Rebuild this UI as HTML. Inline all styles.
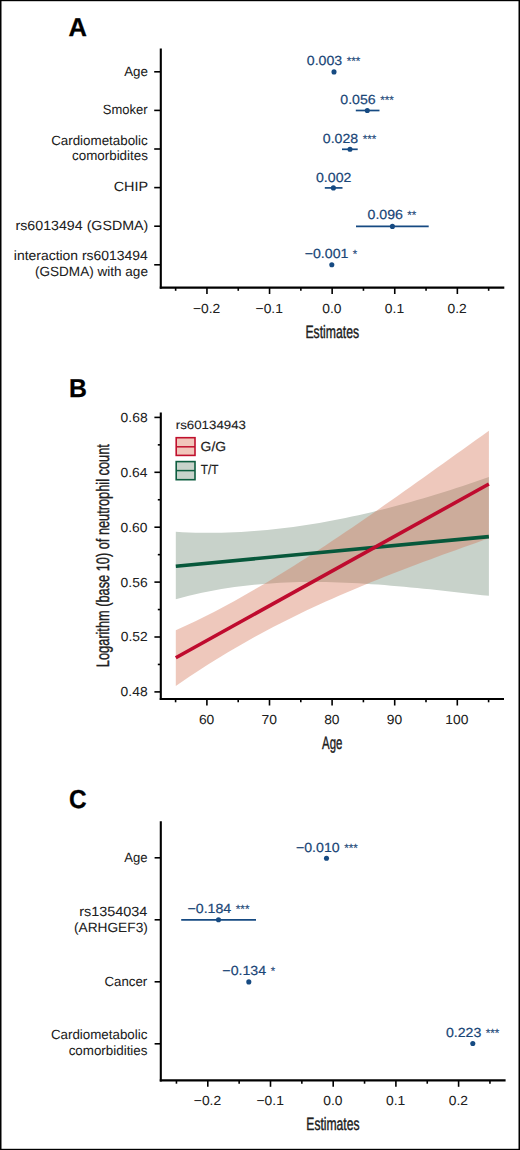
<!DOCTYPE html>
<html><head><meta charset="utf-8"><style>
html,body{margin:0;padding:0;background:#fff;}
svg{display:block;}
text{font-family:"Liberation Sans",sans-serif;font-kerning:none;}
</style></head><body>
<svg width="520" height="1150" viewBox="0 0 520 1150" text-rendering="geometricPrecision">
<rect width="520" height="1150" fill="#fff"/>
<text x="68.62" y="35.7" font-size="25.9" font-weight="bold" fill="#000" stroke="#000" stroke-width="0.3" textLength="18.41" lengthAdjust="spacingAndGlyphs">A</text>
<line x1="160.8" y1="48.5" x2="160.8" y2="288.65" stroke="#000" stroke-width="2.1" stroke-linecap="butt"/>
<line x1="159.75" y1="287.6" x2="504.3" y2="287.6" stroke="#000" stroke-width="2.1" stroke-linecap="butt"/>
<line x1="154.2" y1="71.8" x2="160.8" y2="71.8" stroke="#000" stroke-width="1.6" stroke-linecap="butt"/>
<line x1="154.2" y1="110.4" x2="160.8" y2="110.4" stroke="#000" stroke-width="1.6" stroke-linecap="butt"/>
<line x1="154.2" y1="149" x2="160.8" y2="149" stroke="#000" stroke-width="1.6" stroke-linecap="butt"/>
<line x1="154.2" y1="187.6" x2="160.8" y2="187.6" stroke="#000" stroke-width="1.6" stroke-linecap="butt"/>
<line x1="154.2" y1="226.2" x2="160.8" y2="226.2" stroke="#000" stroke-width="1.6" stroke-linecap="butt"/>
<line x1="154.2" y1="264.8" x2="160.8" y2="264.8" stroke="#000" stroke-width="1.6" stroke-linecap="butt"/>
<line x1="175.65" y1="287.6" x2="175.65" y2="290.8" stroke="#000" stroke-width="1.6" stroke-linecap="butt"/>
<line x1="206.95" y1="287.6" x2="206.95" y2="294" stroke="#000" stroke-width="1.6" stroke-linecap="butt"/>
<line x1="238.25" y1="287.6" x2="238.25" y2="290.8" stroke="#000" stroke-width="1.6" stroke-linecap="butt"/>
<line x1="269.55" y1="287.6" x2="269.55" y2="294" stroke="#000" stroke-width="1.6" stroke-linecap="butt"/>
<line x1="300.85" y1="287.6" x2="300.85" y2="290.8" stroke="#000" stroke-width="1.6" stroke-linecap="butt"/>
<line x1="332.15" y1="287.6" x2="332.15" y2="294" stroke="#000" stroke-width="1.6" stroke-linecap="butt"/>
<line x1="363.45" y1="287.6" x2="363.45" y2="290.8" stroke="#000" stroke-width="1.6" stroke-linecap="butt"/>
<line x1="394.75" y1="287.6" x2="394.75" y2="294" stroke="#000" stroke-width="1.6" stroke-linecap="butt"/>
<line x1="426.05" y1="287.6" x2="426.05" y2="290.8" stroke="#000" stroke-width="1.6" stroke-linecap="butt"/>
<line x1="457.35" y1="287.6" x2="457.35" y2="294" stroke="#000" stroke-width="1.6" stroke-linecap="butt"/>
<line x1="488.65" y1="287.6" x2="488.65" y2="290.8" stroke="#000" stroke-width="1.6" stroke-linecap="butt"/>
<text x="124.2" y="75.8" font-size="13.4" fill="#202020" stroke="#202020" stroke-width="0.05" textLength="23.77" lengthAdjust="spacingAndGlyphs">Age</text>
<text x="102.84" y="113.9" font-size="13.4" fill="#202020" stroke="#202020" stroke-width="0.05" textLength="44.76" lengthAdjust="spacingAndGlyphs">Smoker</text>
<text x="51.15" y="144.8" font-size="13.4" fill="#202020" stroke="#202020" stroke-width="0.05" textLength="96.58" lengthAdjust="spacingAndGlyphs">Cardiometabolic</text>
<text x="72.06" y="159.9" font-size="13.4" fill="#202020" stroke="#202020" stroke-width="0.05" textLength="75.8" lengthAdjust="spacingAndGlyphs">comorbidites</text>
<text x="113.69" y="191.4" font-size="13.4" fill="#202020" stroke="#202020" stroke-width="0.05" textLength="34.44" lengthAdjust="spacingAndGlyphs">CHIP</text>
<text x="15.48" y="230.4" font-size="13.4" fill="#202020" stroke="#202020" stroke-width="0.05" textLength="132.78" lengthAdjust="spacingAndGlyphs">rs6013494 (GSDMA)</text>
<text x="13.89" y="260.3" font-size="13.4" fill="#202020" stroke="#202020" stroke-width="0.05" textLength="133.89" lengthAdjust="spacingAndGlyphs">interaction rs6013494</text>
<text x="34.98" y="276" font-size="13.4" fill="#202020" stroke="#202020" stroke-width="0.05" textLength="112.99" lengthAdjust="spacingAndGlyphs">(GSDMA) with age</text>
<text x="192.98" y="312.5" font-size="13.2" fill="#202020" stroke="#202020" stroke-width="0.05" textLength="27.36" lengthAdjust="spacingAndGlyphs">−0.2</text>
<text x="255.57" y="312.5" font-size="13.2" fill="#202020" stroke="#202020" stroke-width="0.05" textLength="27.36" lengthAdjust="spacingAndGlyphs">−0.1</text>
<text x="322.22" y="312.5" font-size="13.2" fill="#202020" stroke="#202020" stroke-width="0.05" textLength="19.27" lengthAdjust="spacingAndGlyphs">0.0</text>
<text x="384.88" y="312.5" font-size="13.2" fill="#202020" stroke="#202020" stroke-width="0.05" textLength="19.27" lengthAdjust="spacingAndGlyphs">0.1</text>
<text x="447.49" y="312.5" font-size="13.2" fill="#202020" stroke="#202020" stroke-width="0.05" textLength="19.27" lengthAdjust="spacingAndGlyphs">0.2</text>
<text x="305.4" y="337.6" font-size="18" fill="#202020" stroke="#202020" stroke-width="0.4" textLength="53.75" lengthAdjust="spacingAndGlyphs">Estimates</text>
<line x1="355.8" y1="110.5" x2="379.5" y2="110.5" stroke="#164a82" stroke-width="1.7" stroke-linecap="butt"/>
<line x1="342" y1="149.3" x2="357.7" y2="149.3" stroke="#164a82" stroke-width="1.7" stroke-linecap="butt"/>
<line x1="324.8" y1="187.9" x2="342.5" y2="187.9" stroke="#164a82" stroke-width="1.7" stroke-linecap="butt"/>
<line x1="356" y1="226.4" x2="428.7" y2="226.4" stroke="#164a82" stroke-width="1.7" stroke-linecap="butt"/>
<circle cx="334" cy="71.9" r="2.55" fill="#164a82"/>
<circle cx="367.3" cy="110.5" r="2.55" fill="#164a82"/>
<circle cx="350" cy="149.3" r="2.55" fill="#164a82"/>
<circle cx="333.4" cy="187.9" r="2.55" fill="#164a82"/>
<circle cx="392.4" cy="226.4" r="2.55" fill="#164a82"/>
<circle cx="331.8" cy="264.7" r="2.55" fill="#164a82"/>
<text x="306.8" y="65.2" font-size="13.2" fill="#1a4677" stroke="#1a4677" stroke-width="0.2" textLength="35.47" lengthAdjust="spacingAndGlyphs">0.003</text>
<text x="346.63" y="65.2" font-size="11.8" fill="#1a4677" stroke="#1a4677" stroke-width="0.15" textLength="13.62" lengthAdjust="spacingAndGlyphs">***</text>
<text x="340.3" y="104.3" font-size="13.2" fill="#1a4677" stroke="#1a4677" stroke-width="0.2" textLength="35.47" lengthAdjust="spacingAndGlyphs">0.056</text>
<text x="380.13" y="104.3" font-size="11.8" fill="#1a4677" stroke="#1a4677" stroke-width="0.15" textLength="13.62" lengthAdjust="spacingAndGlyphs">***</text>
<text x="322.8" y="142.9" font-size="13.2" fill="#1a4677" stroke="#1a4677" stroke-width="0.2" textLength="35.47" lengthAdjust="spacingAndGlyphs">0.028</text>
<text x="362.64" y="142.9" font-size="11.8" fill="#1a4677" stroke="#1a4677" stroke-width="0.15" textLength="13.62" lengthAdjust="spacingAndGlyphs">***</text>
<text x="315.95" y="181.7" font-size="13.2" fill="#1a4677" stroke="#1a4677" stroke-width="0.2" textLength="35.47" lengthAdjust="spacingAndGlyphs">0.002</text>
<text x="367.5" y="219" font-size="13.2" fill="#1a4677" stroke="#1a4677" stroke-width="0.2" textLength="35.47" lengthAdjust="spacingAndGlyphs">0.096</text>
<text x="407.33" y="219" font-size="11.8" fill="#1a4677" stroke="#1a4677" stroke-width="0.15" textLength="9.03" lengthAdjust="spacingAndGlyphs">**</text>
<text x="304.69" y="258" font-size="13.2" fill="#1a4677" stroke="#1a4677" stroke-width="0.2" textLength="43.79" lengthAdjust="spacingAndGlyphs">−0.001</text>
<text x="352.78" y="258" font-size="11.8" fill="#1a4677" stroke="#1a4677" stroke-width="0.15" textLength="4.43" lengthAdjust="spacingAndGlyphs">*</text>
<text x="68.89" y="396.7" font-size="25.9" font-weight="bold" fill="#000" stroke="#000" stroke-width="0.3" textLength="17.88" lengthAdjust="spacingAndGlyphs">B</text>
<path d="M175.8,531.83 L182.32,532.19 L188.85,532.47 L195.37,532.67 L201.89,532.79 L208.41,532.83 L214.94,532.81 L221.46,532.7 L227.98,532.53 L234.51,532.28 L241.03,531.96 L247.55,531.57 L254.07,531.11 L260.6,530.58 L267.12,529.99 L273.64,529.33 L280.17,528.6 L286.69,527.82 L293.21,526.96 L299.74,526.05 L306.26,525.07 L312.78,524.04 L319.3,522.94 L325.83,521.79 L332.35,520.58 L338.87,519.31 L345.4,517.99 L351.92,516.62 L358.44,515.19 L364.96,513.71 L371.49,512.18 L378.01,510.6 L384.53,508.97 L391.06,507.29 L397.58,505.56 L404.1,503.79 L410.62,501.97 L417.15,500.11 L423.67,498.21 L430.19,496.26 L436.72,494.27 L443.24,492.25 L449.76,490.18 L456.29,488.07 L462.81,485.93 L469.33,483.76 L475.85,481.54 L482.38,479.3 L488.9,477.02 L488.9,595.86 L482.38,595.13 L475.85,594.4 L469.33,593.67 L462.81,592.93 L456.29,592.2 L449.76,591.48 L443.24,590.77 L436.72,590.06 L430.19,589.37 L423.67,588.69 L417.15,588.03 L410.62,587.4 L404.1,586.78 L397.58,586.19 L391.06,585.63 L384.53,585.1 L378.01,584.6 L371.49,584.14 L364.96,583.72 L358.44,583.33 L351.92,582.99 L345.4,582.7 L338.87,582.45 L332.35,582.26 L325.83,582.11 L319.3,582.03 L312.78,582 L306.26,582.03 L299.74,582.12 L293.21,582.28 L286.69,582.51 L280.17,582.81 L273.64,583.18 L267.12,583.63 L260.6,584.15 L254.07,584.76 L247.55,585.45 L241.03,586.22 L234.51,587.09 L227.98,588.04 L221.46,589.08 L214.94,590.23 L208.41,591.47 L201.89,592.81 L195.37,594.25 L188.85,595.8 L182.32,597.46 L175.8,599.23 Z" fill="#c8d2ca" fill-opacity="1"/>
<path d="M175.8,630.33 L182.32,627.36 L188.85,624.32 L195.37,621.2 L201.89,618 L208.41,614.73 L214.94,611.38 L221.46,607.96 L227.98,604.47 L234.51,600.91 L241.03,597.29 L247.55,593.61 L254.07,589.86 L260.6,586.06 L267.12,582.2 L273.64,578.28 L280.17,574.31 L286.69,570.29 L293.21,566.21 L299.74,562.09 L306.26,557.93 L312.78,553.72 L319.3,549.47 L325.83,545.18 L332.35,540.85 L338.87,536.49 L345.4,532.09 L351.92,527.66 L358.44,523.2 L364.96,518.71 L371.49,514.2 L378.01,509.66 L384.53,505.11 L391.06,500.53 L397.58,495.93 L404.1,491.32 L410.62,486.69 L417.15,482.05 L423.67,477.41 L430.19,472.75 L436.72,468.09 L443.24,463.42 L449.76,458.75 L456.29,454.08 L462.81,449.41 L469.33,444.75 L475.85,440.09 L482.38,435.44 L488.9,430.8 L488.9,538.31 L482.38,540.62 L475.85,542.93 L469.33,545.25 L462.81,547.57 L456.29,549.91 L449.76,552.25 L443.24,554.62 L436.72,556.99 L430.19,559.39 L423.67,561.8 L417.15,564.23 L410.62,566.69 L404.1,569.17 L397.58,571.68 L391.06,574.22 L384.53,576.79 L378.01,579.39 L371.49,582.02 L364.96,584.69 L358.44,587.39 L351.92,590.14 L345.4,592.93 L338.87,595.76 L332.35,598.63 L325.83,601.56 L319.3,604.53 L312.78,607.55 L306.26,610.62 L299.74,613.75 L293.21,616.94 L286.69,620.18 L280.17,623.48 L273.64,626.85 L267.12,630.27 L260.6,633.76 L254.07,637.32 L247.55,640.95 L241.03,644.65 L234.51,648.42 L227.98,652.27 L221.46,656.19 L214.94,660.19 L208.41,664.27 L201.89,668.44 L195.37,672.68 L188.85,677.01 L182.32,681.43 L175.8,685.94 Z" fill="#d37253" fill-opacity="0.39"/>
<line x1="175.8" y1="566.2" x2="488.9" y2="536.6" stroke="#07583b" stroke-width="3.6" stroke-linecap="butt"/>
<line x1="175.8" y1="657.7" x2="488.9" y2="484" stroke="#bf0b2e" stroke-width="3.6" stroke-linecap="butt"/>
<line x1="160.8" y1="412.4" x2="160.8" y2="700.05" stroke="#000" stroke-width="2.1" stroke-linecap="butt"/>
<line x1="159.75" y1="699" x2="504" y2="699" stroke="#000" stroke-width="2.1" stroke-linecap="butt"/>
<line x1="154.4" y1="417.4" x2="160.8" y2="417.4" stroke="#000" stroke-width="1.6" stroke-linecap="butt"/>
<line x1="157.8" y1="444.85" x2="160.8" y2="444.85" stroke="#000" stroke-width="1.6" stroke-linecap="butt"/>
<line x1="154.4" y1="472.3" x2="160.8" y2="472.3" stroke="#000" stroke-width="1.6" stroke-linecap="butt"/>
<line x1="157.8" y1="499.75" x2="160.8" y2="499.75" stroke="#000" stroke-width="1.6" stroke-linecap="butt"/>
<line x1="154.4" y1="527.2" x2="160.8" y2="527.2" stroke="#000" stroke-width="1.6" stroke-linecap="butt"/>
<line x1="157.8" y1="554.65" x2="160.8" y2="554.65" stroke="#000" stroke-width="1.6" stroke-linecap="butt"/>
<line x1="154.4" y1="582.1" x2="160.8" y2="582.1" stroke="#000" stroke-width="1.6" stroke-linecap="butt"/>
<line x1="157.8" y1="609.55" x2="160.8" y2="609.55" stroke="#000" stroke-width="1.6" stroke-linecap="butt"/>
<line x1="154.4" y1="637" x2="160.8" y2="637" stroke="#000" stroke-width="1.6" stroke-linecap="butt"/>
<line x1="157.8" y1="664.45" x2="160.8" y2="664.45" stroke="#000" stroke-width="1.6" stroke-linecap="butt"/>
<line x1="154.4" y1="691.9" x2="160.8" y2="691.9" stroke="#000" stroke-width="1.6" stroke-linecap="butt"/>
<line x1="175.6" y1="699" x2="175.6" y2="702.3" stroke="#000" stroke-width="1.6" stroke-linecap="butt"/>
<line x1="206.9" y1="699" x2="206.9" y2="705.5" stroke="#000" stroke-width="1.6" stroke-linecap="butt"/>
<line x1="238.2" y1="699" x2="238.2" y2="702.3" stroke="#000" stroke-width="1.6" stroke-linecap="butt"/>
<line x1="269.5" y1="699" x2="269.5" y2="705.5" stroke="#000" stroke-width="1.6" stroke-linecap="butt"/>
<line x1="300.8" y1="699" x2="300.8" y2="702.3" stroke="#000" stroke-width="1.6" stroke-linecap="butt"/>
<line x1="332.1" y1="699" x2="332.1" y2="705.5" stroke="#000" stroke-width="1.6" stroke-linecap="butt"/>
<line x1="363.4" y1="699" x2="363.4" y2="702.3" stroke="#000" stroke-width="1.6" stroke-linecap="butt"/>
<line x1="394.7" y1="699" x2="394.7" y2="705.5" stroke="#000" stroke-width="1.6" stroke-linecap="butt"/>
<line x1="426" y1="699" x2="426" y2="702.3" stroke="#000" stroke-width="1.6" stroke-linecap="butt"/>
<line x1="457.3" y1="699" x2="457.3" y2="705.5" stroke="#000" stroke-width="1.6" stroke-linecap="butt"/>
<line x1="488.6" y1="699" x2="488.6" y2="702.3" stroke="#000" stroke-width="1.6" stroke-linecap="butt"/>
<text x="120.63" y="421.8" font-size="13.2" fill="#202020" stroke="#202020" stroke-width="0.05" textLength="26.98" lengthAdjust="spacingAndGlyphs">0.68</text>
<text x="120.43" y="476.7" font-size="13.2" fill="#202020" stroke="#202020" stroke-width="0.05" textLength="26.98" lengthAdjust="spacingAndGlyphs">0.64</text>
<text x="120.57" y="531.6" font-size="13.2" fill="#202020" stroke="#202020" stroke-width="0.05" textLength="26.98" lengthAdjust="spacingAndGlyphs">0.60</text>
<text x="120.63" y="586.5" font-size="13.2" fill="#202020" stroke="#202020" stroke-width="0.05" textLength="26.98" lengthAdjust="spacingAndGlyphs">0.56</text>
<text x="120.72" y="641.4" font-size="13.2" fill="#202020" stroke="#202020" stroke-width="0.05" textLength="26.98" lengthAdjust="spacingAndGlyphs">0.52</text>
<text x="120.63" y="696.3" font-size="13.2" fill="#202020" stroke="#202020" stroke-width="0.05" textLength="26.98" lengthAdjust="spacingAndGlyphs">0.48</text>
<text x="198.91" y="724" font-size="13.2" fill="#202020" stroke="#202020" stroke-width="0.05" textLength="15.42" lengthAdjust="spacingAndGlyphs">60</text>
<text x="261.51" y="724" font-size="13.2" fill="#202020" stroke="#202020" stroke-width="0.05" textLength="15.42" lengthAdjust="spacingAndGlyphs">70</text>
<text x="324.16" y="724" font-size="13.2" fill="#202020" stroke="#202020" stroke-width="0.05" textLength="15.42" lengthAdjust="spacingAndGlyphs">80</text>
<text x="386.74" y="724" font-size="13.2" fill="#202020" stroke="#202020" stroke-width="0.05" textLength="15.42" lengthAdjust="spacingAndGlyphs">90</text>
<text x="445.28" y="724" font-size="13.2" fill="#202020" stroke="#202020" stroke-width="0.05" textLength="23.12" lengthAdjust="spacingAndGlyphs">100</text>
<text x="322.08" y="749.3" font-size="18" fill="#202020" stroke="#202020" stroke-width="0.4" textLength="20.33" lengthAdjust="spacingAndGlyphs">Age</text>
<text transform="translate(108.5,667.15) rotate(-90)" x="0" y="0" font-size="18" fill="#202020" stroke="#202020" stroke-width="0.4" textLength="222.94" lengthAdjust="spacingAndGlyphs">Logarithm (base 10) of neutrophil count</text>
<text x="175.77" y="428.6" font-size="12" fill="#202020" stroke="#202020" stroke-width="0.1" textLength="70.17" lengthAdjust="spacingAndGlyphs">rs60134943</text>
<rect x="176.2" y="437.7" width="18.8" height="17.7" fill="#f1c6bb" stroke="#c0102d" stroke-width="1.6"/>
<line x1="176.2" y1="446.8" x2="195" y2="446.8" stroke="#c0102d" stroke-width="1.5" stroke-linecap="butt"/>
<rect x="176.2" y="461.6" width="18.8" height="18.1" fill="#c8d3cb" stroke="#0e5e40" stroke-width="1.6"/>
<line x1="176.2" y1="470.6" x2="195" y2="470.6" stroke="#0e5e40" stroke-width="1.5" stroke-linecap="butt"/>
<text x="200.6" y="450.9" font-size="13.2" fill="#202020" stroke="#202020" stroke-width="0.2" textLength="25.43" lengthAdjust="spacingAndGlyphs">G/G</text>
<text x="200.74" y="474.4" font-size="13.2" fill="#202020" stroke="#202020" stroke-width="0.2" textLength="17.63" lengthAdjust="spacingAndGlyphs">T/T</text>
<text x="68.95" y="808.1" font-size="25.9" font-weight="bold" fill="#000" stroke="#000" stroke-width="0.3" textLength="17.56" lengthAdjust="spacingAndGlyphs">C</text>
<line x1="160.8" y1="821.2" x2="160.8" y2="1081.45" stroke="#000" stroke-width="2.1" stroke-linecap="butt"/>
<line x1="159.75" y1="1080.4" x2="505.6" y2="1080.4" stroke="#000" stroke-width="2.1" stroke-linecap="butt"/>
<line x1="154.6" y1="857.8" x2="160.8" y2="857.8" stroke="#000" stroke-width="1.6" stroke-linecap="butt"/>
<line x1="154.6" y1="919.8" x2="160.8" y2="919.8" stroke="#000" stroke-width="1.6" stroke-linecap="butt"/>
<line x1="154.6" y1="981.8" x2="160.8" y2="981.8" stroke="#000" stroke-width="1.6" stroke-linecap="butt"/>
<line x1="154.6" y1="1043.8" x2="160.8" y2="1043.8" stroke="#000" stroke-width="1.6" stroke-linecap="butt"/>
<line x1="176.45" y1="1080.4" x2="176.45" y2="1083.7" stroke="#000" stroke-width="1.6" stroke-linecap="butt"/>
<line x1="207.8" y1="1080.4" x2="207.8" y2="1086.8" stroke="#000" stroke-width="1.6" stroke-linecap="butt"/>
<line x1="239.15" y1="1080.4" x2="239.15" y2="1083.7" stroke="#000" stroke-width="1.6" stroke-linecap="butt"/>
<line x1="270.5" y1="1080.4" x2="270.5" y2="1086.8" stroke="#000" stroke-width="1.6" stroke-linecap="butt"/>
<line x1="301.85" y1="1080.4" x2="301.85" y2="1083.7" stroke="#000" stroke-width="1.6" stroke-linecap="butt"/>
<line x1="333.2" y1="1080.4" x2="333.2" y2="1086.8" stroke="#000" stroke-width="1.6" stroke-linecap="butt"/>
<line x1="364.55" y1="1080.4" x2="364.55" y2="1083.7" stroke="#000" stroke-width="1.6" stroke-linecap="butt"/>
<line x1="395.9" y1="1080.4" x2="395.9" y2="1086.8" stroke="#000" stroke-width="1.6" stroke-linecap="butt"/>
<line x1="427.25" y1="1080.4" x2="427.25" y2="1083.7" stroke="#000" stroke-width="1.6" stroke-linecap="butt"/>
<line x1="458.6" y1="1080.4" x2="458.6" y2="1086.8" stroke="#000" stroke-width="1.6" stroke-linecap="butt"/>
<line x1="489.95" y1="1080.4" x2="489.95" y2="1083.7" stroke="#000" stroke-width="1.6" stroke-linecap="butt"/>
<text x="124.3" y="861.5" font-size="13.4" fill="#202020" stroke="#202020" stroke-width="0.05" textLength="23.26" lengthAdjust="spacingAndGlyphs">Age</text>
<text x="79.17" y="915.5" font-size="13.4" fill="#202020" stroke="#202020" stroke-width="0.05" textLength="68.23" lengthAdjust="spacingAndGlyphs">rs1354034</text>
<text x="73.98" y="931.8" font-size="13.4" fill="#202020" stroke="#202020" stroke-width="0.05" textLength="73.85" lengthAdjust="spacingAndGlyphs">(ARHGEF3)</text>
<text x="104.45" y="986" font-size="13.4" fill="#202020" stroke="#202020" stroke-width="0.05" textLength="42.74" lengthAdjust="spacingAndGlyphs">Cancer</text>
<text x="50.95" y="1039.4" font-size="13.4" fill="#202020" stroke="#202020" stroke-width="0.05" textLength="96.38" lengthAdjust="spacingAndGlyphs">Cardiometabolic</text>
<text x="68.66" y="1054.9" font-size="13.4" fill="#202020" stroke="#202020" stroke-width="0.05" textLength="78.8" lengthAdjust="spacingAndGlyphs">comorbidities</text>
<text x="193.83" y="1104.9" font-size="13.2" fill="#202020" stroke="#202020" stroke-width="0.05" textLength="27.36" lengthAdjust="spacingAndGlyphs">−0.2</text>
<text x="256.52" y="1104.9" font-size="13.2" fill="#202020" stroke="#202020" stroke-width="0.05" textLength="27.36" lengthAdjust="spacingAndGlyphs">−0.1</text>
<text x="323.27" y="1104.9" font-size="13.2" fill="#202020" stroke="#202020" stroke-width="0.05" textLength="19.27" lengthAdjust="spacingAndGlyphs">0.0</text>
<text x="386.03" y="1104.9" font-size="13.2" fill="#202020" stroke="#202020" stroke-width="0.05" textLength="19.27" lengthAdjust="spacingAndGlyphs">0.1</text>
<text x="448.74" y="1104.9" font-size="13.2" fill="#202020" stroke="#202020" stroke-width="0.05" textLength="19.27" lengthAdjust="spacingAndGlyphs">0.2</text>
<text x="306.31" y="1130.3" font-size="18" fill="#202020" stroke="#202020" stroke-width="0.4" textLength="53.23" lengthAdjust="spacingAndGlyphs">Estimates</text>
<line x1="181.2" y1="919.8" x2="256" y2="919.8" stroke="#164a82" stroke-width="1.7" stroke-linecap="butt"/>
<circle cx="326.5" cy="858.3" r="2.55" fill="#164a82"/>
<circle cx="218.5" cy="919.8" r="2.55" fill="#164a82"/>
<circle cx="248.8" cy="981.9" r="2.55" fill="#164a82"/>
<circle cx="472.8" cy="1043.5" r="2.55" fill="#164a82"/>
<text x="295.93" y="851.6" font-size="13.2" fill="#1a4677" stroke="#1a4677" stroke-width="0.2" textLength="43.79" lengthAdjust="spacingAndGlyphs">−0.010</text>
<text x="344.16" y="851.6" font-size="11.8" fill="#1a4677" stroke="#1a4677" stroke-width="0.15" textLength="13.62" lengthAdjust="spacingAndGlyphs">***</text>
<text x="187.46" y="913.2" font-size="13.2" fill="#1a4677" stroke="#1a4677" stroke-width="0.2" textLength="43.79" lengthAdjust="spacingAndGlyphs">−0.184</text>
<text x="235.83" y="913.2" font-size="11.8" fill="#1a4677" stroke="#1a4677" stroke-width="0.15" textLength="13.62" lengthAdjust="spacingAndGlyphs">***</text>
<text x="222.35" y="974.7" font-size="13.2" fill="#1a4677" stroke="#1a4677" stroke-width="0.2" textLength="43.79" lengthAdjust="spacingAndGlyphs">−0.134</text>
<text x="270.72" y="974.7" font-size="11.8" fill="#1a4677" stroke="#1a4677" stroke-width="0.15" textLength="4.43" lengthAdjust="spacingAndGlyphs">*</text>
<text x="445.9" y="1037.4" font-size="13.2" fill="#1a4677" stroke="#1a4677" stroke-width="0.2" textLength="35.47" lengthAdjust="spacingAndGlyphs">0.223</text>
<text x="485.73" y="1037.4" font-size="11.8" fill="#1a4677" stroke="#1a4677" stroke-width="0.15" textLength="13.62" lengthAdjust="spacingAndGlyphs">***</text>
<rect x="0" y="0" width="1.5" height="1150" fill="#000"/>
<rect x="518.5" y="0" width="1.5" height="1150" fill="#000"/>
<rect x="0" y="0" width="520" height="1.2" fill="#000"/>
<rect x="0" y="1148.8" width="520" height="1.2" fill="#000"/>
</svg>
</body></html>
